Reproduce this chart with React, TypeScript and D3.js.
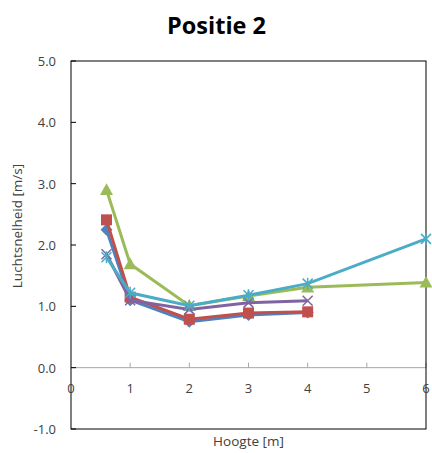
import React from "react";
import * as d3 from "d3";

const xTicks = [0, 1, 2, 3, 4, 5, 6];
const yTicks = [-1, 0, 1, 2, 3, 4, 5];

const blueX = [0.6, 1, 2, 3, 4];
const blueY = [2.25, 1.1, 0.75, 0.86, 0.9];
const redX = [0.6, 1, 2, 3, 4];
const redY = [2.41, 1.15, 0.79, 0.89, 0.91];
const greenX = [0.6, 1, 2, 3, 4, 6];
const greenY = [2.9, 1.69, 1.01, 1.17, 1.31, 1.39];
const purpleX = [0.6, 1, 2, 3, 4];
const purpleY = [1.85, 1.1, 0.95, 1.06, 1.09];
const cyanX = [0.6, 1, 2, 3, 4, 6];
const cyanY = [1.8, 1.22, 1.01, 1.18, 1.37, 2.1];

const series = [
  { xs: blueX, ys: blueY, color: "#4F81BD", marker: "diamond" },
  { xs: redX, ys: redY, color: "#C0504D", marker: "square" },
  { xs: greenX, ys: greenY, color: "#9BBB59", marker: "triangle" },
  { xs: purpleX, ys: purpleY, color: "#8064A2", marker: "x" },
  { xs: cyanX, ys: cyanY, color: "#4BACC6", marker: "star" },
];

const W = 432, H = 453;
const L = 71, R = 426, T = 61, B = 429;
const font = "'Open Sans', 'Liberation Sans', sans-serif";

function Marker({ type, x, y, color }: { type: string; x: number; y: number; color: string }) {
  if (type === "diamond") {
    const s = 6;
    return <path d={`M${x},${y - s}L${x + s},${y}L${x},${y + s}L${x - s},${y}Z`} fill={color} />;
  }
  if (type === "square") {
    const s = 5.5;
    return <rect x={x - s} y={y - s} width={2 * s} height={2 * s} fill={color} />;
  }
  if (type === "triangle") {
    const s = 6.5;
    return <path d={`M${x},${y - s}L${x + s},${y + s * 0.8}L${x - s},${y + s * 0.8}Z`} fill={color} />;
  }
  if (type === "x") {
    const s = 5;
    return <path d={`M${x - s},${y - s}L${x + s},${y + s}M${x - s},${y + s}L${x + s},${y - s}`} stroke={color} strokeWidth={1.5} fill="none" />;
  }
  const s = 5;
  return <path d={`M${x - s},${y - s}L${x + s},${y + s}M${x - s},${y + s}L${x + s},${y - s}M${x},${y - s - 1}L${x},${y + s + 1}`} stroke={color} strokeWidth={1.5} fill="none" />;
}

export default function App() {
  const x = d3.scaleLinear().domain([0, 6]).range([L, R]);
  const y = d3.scaleLinear().domain([-1, 5]).range([B, T]);
  const line = d3.line<[number, number]>().x((d) => x(d[0])).y((d) => y(d[1]));
  return (
    <svg width={W} height={H} style={{ position: "absolute", left: 0, top: 0, background: "#fff" }}>
      <text x={216.5} y={34} textAnchor="middle" fontFamily={font} fontWeight="bold" fontSize={23.5} fill="#000">Positie 2</text>
      {/* zero line */}
      <line x1={L} x2={R} y1={y(0)} y2={y(0)} stroke="#A6A6A6" strokeWidth={1} />
      {xTicks.slice(1).map((t) => (
        <line key={"xt" + t} x1={x(t)} x2={x(t)} y1={y(0) - 5} y2={y(0)} stroke="#A6A6A6" strokeWidth={1} />
      ))}
      {yTicks.map((t) => (
        <line key={"yt" + t} x1={L} x2={L + 5} y1={y(t)} y2={y(t)} stroke="#000" strokeWidth={1} />
      ))}
      <rect x={L} y={T} width={R - L} height={B - T} fill="none" stroke="#000" strokeWidth={1} />
      {yTicks.map((t) => (
        <text key={"yl" + t} x={L - 15} y={y(t) + 5} textAnchor="end" fontFamily={font} fontSize={13} fill="#404040">{t.toFixed(1)}</text>
      ))}
      {xTicks.map((t) => (
        <text key={"xl" + t} x={x(t)} y={y(0) + 25} textAnchor="middle" fontFamily={font} fontSize={13} fill="#404040">{t}</text>
      ))}
      <text x={248.5} y={446} textAnchor="middle" fontFamily={font} fontSize={13.5} fill="#404040">Hoogte [m]</text>
      <text transform={`translate(22,226) rotate(-90)`} textAnchor="middle" fontFamily={font} fontSize={13.5} fill="#404040">Luchtsnelheid [m/s]</text>
      {series.map((s, i) => {
        const pts = s.xs.map((v, j) => [v, s.ys[j]] as [number, number]);
        return (
          <g key={i}>
            <path d={line(pts) || ""} fill="none" stroke={s.color} strokeWidth={3} />
            {pts.map((p, j) => (
              <Marker key={j} type={s.marker} x={x(p[0])} y={y(p[1])} color={s.color} />
            ))}
          </g>
        );
      })}
    </svg>
  );
}
